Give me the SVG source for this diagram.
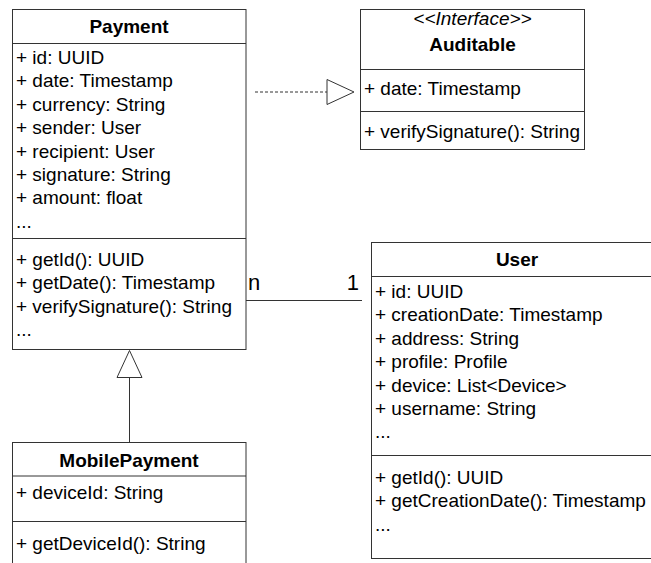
<svg xmlns="http://www.w3.org/2000/svg" width="651" height="563" viewBox="0 0 651 563">
<style>
.box{fill:#fff;stroke:#333;stroke-width:1}
.div{stroke:#333;stroke-width:1}
text{font-family:"Liberation Sans",Arial,sans-serif;font-size:19px;fill:#000}
.t{font-weight:bold;text-anchor:middle}
.st{font-style:italic;text-anchor:middle}
.lbl{font-size:22px}
.conn{stroke:#333;stroke-width:1;fill:none}
</style>
<rect width="651" height="563" fill="#fff"/>
<g id="connectors">
<line class="conn" x1="255" y1="92" x2="327" y2="92" stroke-dasharray="3 2"/>
<polygon class="conn" points="327,79.5 354,92 327,104.5" fill="#fff"/>
<line class="conn" x1="246" y1="300.5" x2="362" y2="300.5"/>
<text class="lbl" x="248" y="290">n</text>
<text class="lbl" x="359" y="290" text-anchor="end">1</text>
<line class="conn" x1="129.5" y1="377.5" x2="129.5" y2="443"/>
<polygon class="conn" points="129.5,350.5 142,377.5 117,377.5" fill="#fff"/>
</g>
<g id="payment">
<rect class="box" x="12.5" y="9.5" width="233.5" height="340"/>
<line class="div" x1="12.5" y1="43.5" x2="246" y2="43.5"/>
<line class="div" x1="12.5" y1="238.5" x2="246" y2="238.5"/>
<text class="t" x="129" y="33">Payment</text>
<text x="16" y="64">+ id: UUID</text>
<text x="16" y="87.4">+ date: Timestamp</text>
<text x="16" y="110.8">+ currency: String</text>
<text x="16" y="134.2">+ sender: User</text>
<text x="16" y="157.6">+ recipient: User</text>
<text x="16" y="181">+ signature: String</text>
<text x="16" y="204.4">+ amount: float</text>
<text x="16" y="227.8">...</text>
<text x="16" y="266">+ getId(): UUID</text>
<text x="16" y="289.4">+ getDate(): Timestamp</text>
<text x="16" y="312.8">+ verifySignature(): String</text>
<text x="16" y="336.2">...</text>
</g>
<g id="auditable">
<rect class="box" x="360.5" y="9.5" width="224" height="140"/>
<line class="div" x1="360.5" y1="69.5" x2="584.5" y2="69.5"/>
<line class="div" x1="360.5" y1="111.5" x2="584.5" y2="111.5"/>
<text class="st" x="472.5" y="25">&lt;&lt;Interface&gt;&gt;</text>
<text class="t" x="472.5" y="51">Auditable</text>
<text x="364" y="95">+ date: Timestamp</text>
<text x="364" y="138">+ verifySignature(): String</text>
</g>
<g id="user">
<rect class="box" x="371.5" y="242.5" width="292" height="316"/>
<line class="div" x1="371.5" y1="276.5" x2="663" y2="276.5"/>
<line class="div" x1="371.5" y1="455.5" x2="663" y2="455.5"/>
<text class="t" x="517" y="266">User</text>
<text x="375" y="298">+ id: UUID</text>
<text x="375" y="321.4">+ creationDate: Timestamp</text>
<text x="375" y="344.8">+ address: String</text>
<text x="375" y="368.2">+ profile: Profile</text>
<text x="375" y="391.6">+ device: List&lt;Device&gt;</text>
<text x="375" y="415">+ username: String</text>
<text x="375" y="438.4">...</text>
<text x="375" y="484">+ getId(): UUID</text>
<text x="375" y="507.4">+ getCreationDate(): Timestamp</text>
<text x="375" y="530.8">...</text>
</g>
<g id="mobilepayment">
<rect class="box" x="12.5" y="442.5" width="233.5" height="140"/>
<line class="div" x1="12.5" y1="476" x2="246" y2="476"/>
<line class="div" x1="12.5" y1="521.5" x2="246" y2="521.5"/>
<text class="t" x="129" y="467">MobilePayment</text>
<text x="16" y="499">+ deviceId: String</text>
<text x="16" y="550">+ getDeviceId(): String</text>
</g>
</svg>
